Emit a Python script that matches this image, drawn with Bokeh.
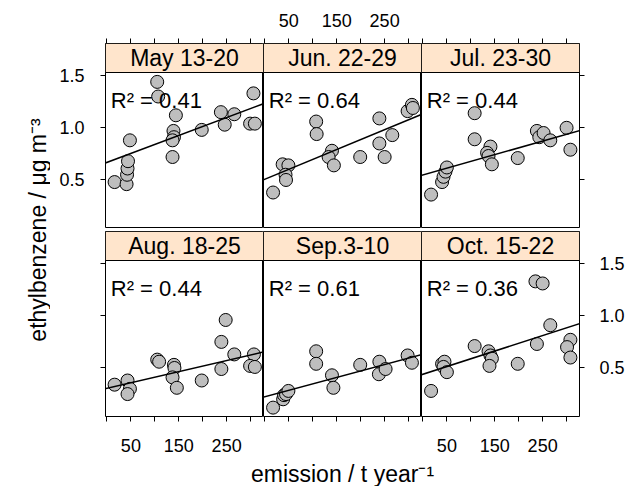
import math
from bokeh.plotting import figure
from bokeh.models import Range1d, LinearAxis, FixedTicker, BoxAnnotation, Label, Slope
from bokeh.core.properties import value
from bokeh.layouts import row, column
from bokeh.embed import file_html
from bokeh.resources import INLINE

# ---------------- data ----------------
panel_names = ["May 13-20", "Jun. 22-29", "Jul. 23-30", "Aug. 18-25", "Sep.3-10", "Oct. 15-22"]
r2_values = ["0.41", "0.64", "0.44", "0.44", "0.61", "0.36"]
fit_intercepts = [0.668, 0.507, 0.548, 0.306, 0.225, 0.440]
fit_slopes = [0.001723, 0.00190, 0.00130, 0.001063, 0.001232, 0.00148]

may_x = [16, 41, 42, 43, 44, 48, 105, 107, 144, 139, 140, 137, 137, 198, 238, 246, 266, 306, 299, 309]
may_y = [0.48, 0.46, 0.55, 0.61, 0.68, 0.88, 1.44, 1.30, 1.12, 0.97, 0.91, 0.88, 0.72, 0.98, 1.15, 1.03, 1.13, 1.33, 1.04, 1.04]
jun_x = [17, 37, 49, 43, 44, 107, 108, 140, 133, 144, 199, 239, 239, 266, 250, 298, 307, 309]
jun_y = [0.38, 0.65, 0.64, 0.55, 0.50, 1.06, 0.94, 0.78, 0.72, 0.64, 0.72, 1.09, 0.85, 0.93, 0.72, 1.16, 1.22, 1.19]
jul_x = [17, 40, 43, 47, 50, 108, 108, 141, 134, 137, 144, 198, 238, 243, 252, 266, 300, 308]
jul_y = [0.36, 0.48, 0.53, 0.58, 0.62, 1.14, 0.89, 0.82, 0.76, 0.73, 0.65, 0.71, 0.97, 0.91, 0.95, 0.88, 1.00, 0.79]
aug_x = [16, 43, 48, 43, 105, 109, 140, 141, 137, 146, 198, 248, 239, 239, 266, 307, 299, 309]
aug_y = [0.34, 0.38, 0.30, 0.25, 0.58, 0.56, 0.53, 0.50, 0.41, 0.31, 0.38, 0.96, 0.75, 0.49, 0.63, 0.63, 0.52, 0.51]
sep_x = [17, 38, 40, 44, 49, 107, 107, 140, 143, 199, 239, 238, 252, 298, 307]
sep_y = [0.12, 0.20, 0.24, 0.25, 0.28, 0.66, 0.54, 0.43, 0.31, 0.53, 0.56, 0.44, 0.49, 0.62, 0.55]
oct_x = [17, 40, 45, 43, 50, 108, 137, 141, 144, 139, 198, 235, 250, 238, 266, 308, 301, 308]
oct_y = [0.28, 0.54, 0.56, 0.51, 0.46, 0.71, 0.66, 0.62, 0.59, 0.52, 0.54, 1.33, 1.31, 0.73, 0.91, 0.77, 0.70, 0.60]

x_ticks = [0, 50, 100, 150, 200, 250, 300]
x_tick_labelled = [50, 150, 250]
y_ticks = [0.5, 1.0, 1.5]
y_tick_labels = ["0.5", "1.0", "1.5"]

x_title = "emission / t year\u207b\u00b9"
y_title = "ethylbenzene / \u03bcg m\u207b\u00b3"

# ---------------- styling / geometry ----------------
FONT = "Liberation Sans"
STRIP_COLOR = "#FFE5CC"
PT_FILL = "#BEBEBE"
X_LO, X_HI = -3, 327
X_W = X_HI - X_LO
Y_LO, Y_HI = 0.035, 1.53
YLAB_W = 50
LEFT_BORDER = 55
FRAME_W = 158
PANEL_H = 156
STRIP_H = 29
TOP_BORDER = 43
ROW_GAP = 3
BOTTOM_BORDER = 12          # ticks only; tick labels + title live in the strip below
LAYOUT_SHIFT = 7            # observed extra offset of the bottom strip in the rendered layout
ppu = PANEL_H / (Y_HI - Y_LO)
Y_TOP = Y_HI + STRIP_H / ppu

xs = [may_x, jun_x, jul_x, aug_x, sep_x, oct_x]
ys = [may_y, jun_y, jul_y, aug_y, sep_y, oct_y]


def style_axis(ax):
    ax.axis_label = None
    ax.axis_line_color = None
    ax.major_tick_line_color = "black"
    ax.major_tick_line_width = 1
    ax.major_tick_out = 5
    ax.major_tick_in = 0
    ax.minor_tick_line_color = None
    ax.major_label_text_font = FONT
    ax.major_label_text_font_size = "18px"
    ax.major_label_text_color = "black"


def x_axis(labelled, standoff):
    ax = LinearAxis(ticker=FixedTicker(ticks=x_ticks, minor_ticks=[]))
    ax.major_label_overrides = {t: (str(t) if (labelled and t in x_tick_labelled) else "") for t in x_ticks}
    ax.major_label_standoff = standoff
    style_axis(ax)
    return ax


def y_axis(labelled, standoff):
    ax = LinearAxis(ticker=FixedTicker(ticks=y_ticks, minor_ticks=[]))
    ax.major_label_overrides = {t: (lab if labelled else "") for t, lab in zip(y_ticks, y_tick_labels)}
    ax.major_label_standoff = standoff
    style_axis(ax)
    return ax


def make_panel(i):
    r, c = divmod(i, 3)
    mb_left = LEFT_BORDER if c == 0 else 0
    mb_right = 54 if c == 2 else 0
    mb_top = TOP_BORDER if r == 0 else ROW_GAP
    mb_bottom = 0 if r == 0 else BOTTOM_BORDER
    p = figure(frame_width=FRAME_W, frame_height=STRIP_H + PANEL_H, title=None,
               x_range=Range1d(X_LO, X_HI), y_range=Range1d(Y_LO, Y_TOP),
               x_axis_location=None, y_axis_location=None,
               toolbar_location=None, output_backend="svg",
               min_border_left=mb_left, min_border_right=mb_right,
               min_border_top=mb_top, min_border_bottom=mb_bottom)
    p.grid.grid_line_color = None
    p.outline_line_color = "black"
    p.outline_line_width = 1
    p.background_fill_color = "white"
    p.border_fill_color = "white"

    # axes (lattice-style alternating labels)
    if r == 0:
        p.add_layout(x_axis(c == 1, 12), "above")
        if c == 0:
            p.add_layout(y_axis(True, 16), "left")
        if c == 2:
            p.add_layout(y_axis(False, 15), "right")
    else:
        bax = x_axis(False, 0)
        bax.major_label_text_font_size = "1px"
        p.add_layout(bax, "below")
        if c == 0:
            p.add_layout(y_axis(False, 16), "left")
        if c == 2:
            p.add_layout(y_axis(True, 15), "right")

    # points
    p.scatter(xs[i], ys[i], size=13, fill_color=PT_FILL, line_color="black", line_width=1)
    # regression line
    p.add_layout(Slope(gradient=fit_slopes[i], y_intercept=fit_intercepts[i],
                       line_color="black", line_width=1.5))
    # strip
    p.add_layout(BoxAnnotation(bottom=Y_HI, fill_color=STRIP_COLOR, fill_alpha=1.0,
                               line_color="black", line_width=1, line_alpha=1.0))
    p.add_layout(Label(x=(X_LO + X_HI) / 2, y=(Y_HI + Y_TOP) / 2, text=panel_names[i],
                       text_align="center", text_baseline="middle",
                       text_font=FONT, text_font_size="23px", text_color="black"))
    # R^2 text
    p.add_layout(Label(x=X_LO + 11, y=1.26, text="R\u00b2 = " + r2_values[i],
                       text_align="left", text_baseline="alphabetic",
                       text_font=FONT, text_font_size="22px", text_color="black"))
    return p


panels = [make_panel(i) for i in range(6)]

TOTAL_H = 486
ROW1_H = TOP_BORDER + STRIP_H + PANEL_H
ROW2_H = ROW_GAP + STRIP_H + PANEL_H + BOTTOM_BORDER

# y-axis title (spans both rows)
ylab = figure(width=YLAB_W, height=TOTAL_H, title=None, x_range=Range1d(0, YLAB_W),
              y_range=Range1d(0, TOTAL_H),
              x_axis_location=None, y_axis_location=None, toolbar_location=None,
              output_backend="svg", min_border=0)
ylab.grid.grid_line_color = None
ylab.outline_line_color = None
ylab.add_layout(Label(x=37, y=TOTAL_H - 229.5, text=y_title, angle=math.pi / 2,
                      text_align="center", text_baseline="alphabetic",
                      text_font=FONT, text_font_size="23px", text_color="black"))

# bottom strip: x tick labels of the lower panels (through each column's own scale) + x title
XL_W = 633 - YLAB_W
XL_H = TOTAL_H - ROW1_H - ROW2_H
XL_TOP = ROW1_H + ROW2_H + LAYOUT_SHIFT
xlab = figure(width=XL_W, height=XL_H, title=None, x_range=Range1d(0, XL_W), y_range=Range1d(0, XL_H),
              x_axis_location=None, y_axis_location=None, toolbar_location=None,
              output_backend="svg", min_border=0)
xlab.grid.grid_line_color = None
xlab.outline_line_color = None
units_per_px = X_W / FRAME_W
for c in range(3):
    start = X_LO - (LEFT_BORDER + c * FRAME_W) * units_per_px
    xlab.extra_x_ranges[f"col{c}"] = Range1d(start, start + XL_W * units_per_px)
tick_label_y = XL_H - (452 - XL_TOP)
for c in (0, 2):  # lattice alternation: bottom labels under first and last column
    xlab.text(x=x_tick_labelled, y=[tick_label_y] * len(x_tick_labelled),
              text=[str(t) for t in x_tick_labelled], x_range_name=f"col{c}",
              text_align="center", text_baseline="alphabetic",
              text_font=value(FONT), text_font_size="18px", text_color="black")
xlab.add_layout(Label(x=LEFT_BORDER + 1.5 * FRAME_W, y=XL_H - (480 - XL_TOP), text=x_title,
                      text_align="center", text_baseline="alphabetic",
                      text_font=FONT, text_font_size="23px", text_color="black"))

layout = row(ylab, column(row(*panels[:3]), row(*panels[3:]), xlab))

open("out.html", "w").write(file_html(layout, INLINE))
